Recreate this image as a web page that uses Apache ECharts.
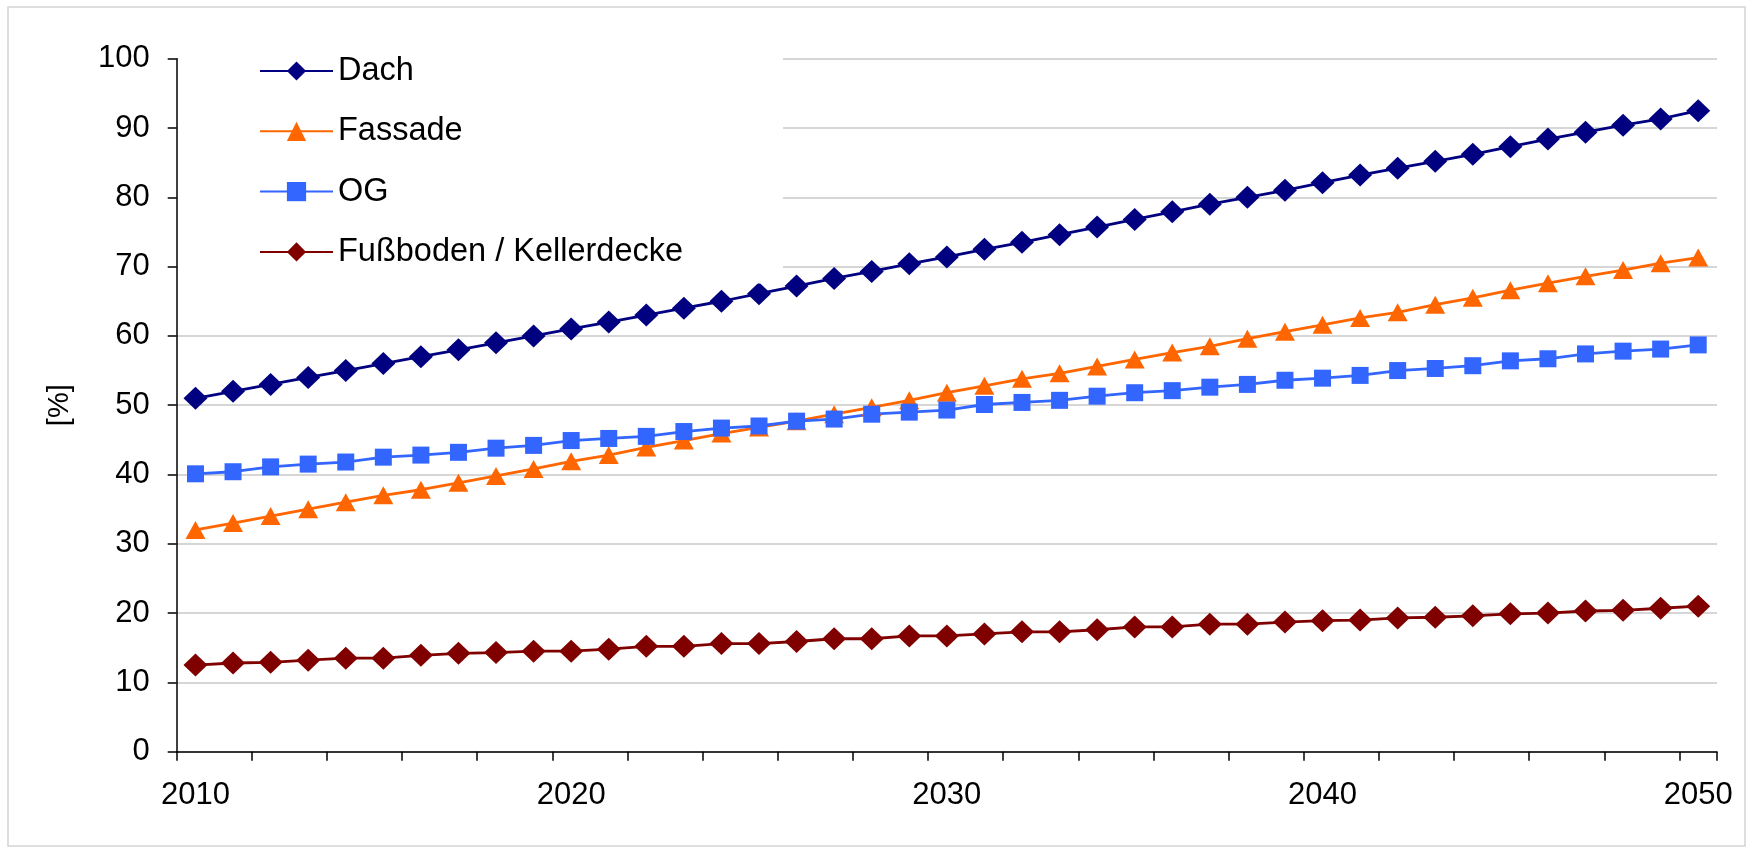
<!DOCTYPE html>
<html>
<head>
<meta charset="utf-8">
<title>Dämmanteil nach Bauteil 2010–2050</title>
<script src="https://cdn.jsdelivr.net/npm/echarts@6/dist/echarts.min.js"></script>
<style>
  html, body { margin: 0; padding: 0; background: #fff; }
  #chart { width: 1753px; height: 848px; }
</style>
</head>
<body>
<div id="chart"></div>
<script>
// Years on the category axis
const years = [];
for (let y = 2010; y <= 2050; y++) years.push(String(y));

// Share per building component, in percent
const dach = [51, 52, 53, 54, 55, 56, 57, 58, 59, 60, 61, 62, 63, 64, 65, 66.1, 67.2, 68.3, 69.3, 70.4, 71.4,
  72.5, 73.5, 74.6, 75.7, 76.8, 77.9, 79, 80, 81, 82.1, 83.2, 84.2, 85.2, 86.2, 87.3, 88.4, 89.4, 90.4, 91.3, 92.5];
const fassade = [32, 33, 34, 35, 36, 37, 37.8, 38.8, 39.8, 40.8, 41.9, 42.8, 43.9, 44.9, 45.9, 46.8, 47.7, 48.7,
  49.7, 50.7, 51.8, 52.8, 53.8, 54.6, 55.6, 56.6, 57.6, 58.5, 59.6, 60.6, 61.6, 62.6, 63.4, 64.5, 65.5, 66.6,
  67.6, 68.6, 69.5, 70.5, 71.3];
const og = [40.1, 40.4, 41.1, 41.5, 41.8, 42.5, 42.8, 43.2, 43.8, 44.2, 44.9, 45.2, 45.5, 46.2, 46.7, 47.0, 47.7,
  48.0, 48.7, 49.0, 49.3, 50.1, 50.4, 50.7, 51.3, 51.8, 52.1, 52.6, 53.0, 53.6, 53.9, 54.3, 55.0, 55.3, 55.7,
  56.4, 56.7, 57.4, 57.8, 58.1, 58.7];
const fussboden = [12.5, 12.8, 12.9, 13.2, 13.5, 13.5, 13.9, 14.2, 14.3, 14.5, 14.5, 14.8, 15.2, 15.2, 15.6, 15.6,
  15.9, 16.3, 16.3, 16.7, 16.7, 17.0, 17.3, 17.3, 17.6, 18.0, 18.0, 18.4, 18.4, 18.7, 18.9, 19.0, 19.3, 19.4,
  19.6, 19.9, 20.0, 20.3, 20.4, 20.7, 21.0];

const seriesNames = ['Dach', 'Fassade', 'OG', 'Fußboden / Kellerdecke'];
const yAxisName = '[%]';

const FONT = '"Liberation Sans", Arial, sans-serif';

function lineSeries(name, data, color, symbol, size) {
  return {
    name: name,
    type: 'line',
    data: data,
    symbol: symbol,
    symbolSize: size,
    showSymbol: true,
    animation: false,
    lineStyle: { color: color, width: 2.8 },
    itemStyle: { color: color },
    emphasis: { disabled: true }
  };
}

const chart = echarts.init(document.getElementById('chart'), null, { renderer: 'canvas' });

chart.setOption({
  backgroundColor: '#ffffff',
  animation: false,
  textStyle: { fontFamily: FONT },
  graphic: [{
    type: 'rect',
    shape: { x: 8, y: 7, width: 1737, height: 839 },
    style: { fill: 'none', stroke: '#d4d4d4', lineWidth: 1.5 },
    silent: true,
    z: -10
  }],
  grid: { left: 176.7, right: 36, top: 58.7, bottom: 96.3, containLabel: false },
  legend: {
    orient: 'vertical',
    left: 178,
    top: 49.5,
    padding: [5, 100, 15, 81],
    backgroundColor: '#ffffff',
    itemWidth: 73,
    itemHeight: 24,
    itemGap: 27.3,
    selectedMode: false,
    textStyle: { fontSize: 32.5, color: '#000', fontFamily: FONT },
    data: seriesNames
  },
  xAxis: {
    type: 'category',
    data: years,
    boundaryGap: true,
    axisLine: { lineStyle: { color: '#000', width: 1.5 } },
    axisTick: { show: true, interval: 1, length: 9, lineStyle: { color: '#000', width: 1.5 } },
    axisLabel: { interval: 9, margin: 28, fontSize: 31, color: '#000', fontFamily: FONT },
    splitLine: { show: false }
  },
  yAxis: {
    type: 'value',
    min: 0,
    max: 100,
    interval: 10,
    name: yAxisName,
    nameLocation: 'middle',
    nameGap: 102,
    nameTextStyle: { fontSize: 29, color: '#000', fontFamily: FONT },
    axisLine: { show: true, lineStyle: { color: '#000', width: 1.5 } },
    axisTick: { show: true, length: 9, lineStyle: { color: '#000', width: 1.5 } },
    axisLabel: { margin: 27, fontSize: 31, color: '#000', fontFamily: FONT },
    splitLine: { show: true, lineStyle: { color: '#c8c8c8', width: 1.5 } }
  },
  series: [
    lineSeries(seriesNames[0], dach, '#000080', 'diamond', [24, 23]),
    lineSeries(seriesNames[1], fassade, '#FF6600', 'triangle', [20, 18]),
    lineSeries(seriesNames[2], og, '#3366FF', 'rect', [17, 17]),
    lineSeries(seriesNames[3], fussboden, '#800000', 'diamond', [24, 23])
  ]
});
</script>
</body>
</html>
